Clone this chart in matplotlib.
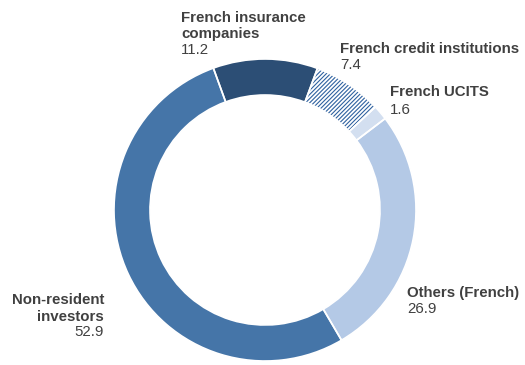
import matplotlib.pyplot as plt

plt.rcParams['font.family'] = ['Liberation Sans', 'DejaVu Sans']
plt.rcParams['hatch.linewidth'] = 0.8

# ── Holders of French debt, share in % ───────────────────────────────────────
holders = ['French insurance\ncompanies', 'French credit institutions',
           'French UCITS', 'Others (French)', 'Non-resident\ninvestors']
shares = [11.2, 7.4, 1.6, 26.9, 52.9]
colors = ['#2c4e75', '#ffffff', '#d3dff0', '#b4c9e6', '#4575a8']

W, H = 525, 365
fig = plt.figure(figsize=(W / 100, H / 100), dpi=100)
ax = fig.add_axes([0, 0, 1, 1])
ax.set_xlim(0, W)
ax.set_ylim(0, H)
ax.set_aspect('equal')
ax.axis('off')

cx, cy, r, ring = 265, H - 210, 151, 36

wedges, _ = ax.pie(shares, colors=colors, startangle=110, counterclock=False,
                   center=(cx, cy), radius=r, frame=True,
                   wedgeprops=dict(width=ring, linewidth=0))
# credit institutions drawn as a dense diagonal hatch
wedges[1].set_hatch('////////')
wedges[1].set_edgecolor('#2f62a0')
wedges[1].set_linewidth(0)

# thin white separators between segments
ax.pie(shares, colors=['none'] * len(shares), startangle=110, counterclock=False,
       center=(cx, cy), radius=r, frame=True,
       wedgeprops=dict(width=ring, linewidth=1.2, edgecolor='white', fill=False))
ax.set_xlim(0, W)
ax.set_ylim(0, H)
ax.axis('off')

# ── Labels ───────────────────────────────────────────────────────────────────
tc = '#404040'
fs = 10.8
label_pos = [(181, 'left', [18, 34], 50),
             (340, 'left', [49], 65),
             (390, 'left', [92], 110),
             (407, 'left', [293], 309),
             (104, 'right', [300, 317], 332)]

for name, val, (x, ha, name_ys, val_y) in zip(holders, shares, label_pos):
    for line, y in zip(name.split('\n'), name_ys):
        ax.text(x, H - y, line, ha=ha, va='center', fontsize=fs,
                fontweight='bold', color=tc)
    ax.text(x, H - val_y, f'{val:.1f}', ha=ha, va='center', fontsize=fs,
            color=tc)

fig.savefig('out.png', dpi=100)
